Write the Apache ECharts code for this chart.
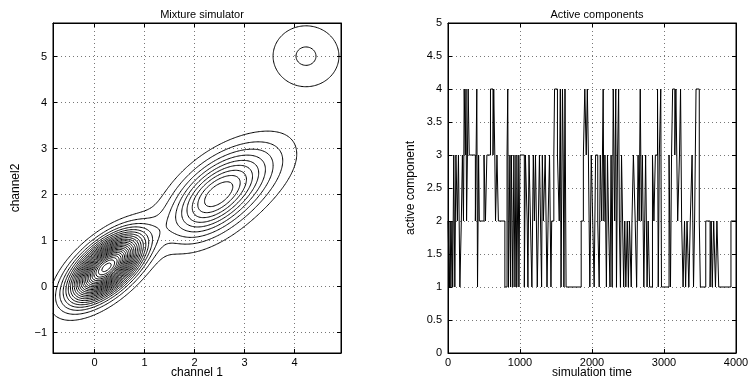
<!DOCTYPE html>
<html><head><meta charset="utf-8">
<script src="https://cdn.jsdelivr.net/npm/echarts@6/dist/echarts.min.js"></script>
<style>html,body{margin:0;padding:0;background:#fff}#c{width:751px;height:381px}</style>
</head><body><div id="c"></div>
<script>
// ---- Mixture model (left panel) ----
const mixWeights = [0.5064, 0.3115, 0.0778, 0.1043];
const mixMeansX  = [0.24, 2.38, 4.23, 3.10];
const mixMeansY  = [0.42, 1.93, 5.01, 2.45];
const mixCovXX   = [0.2074, 0.3392, 0.285, 0.4031];
const mixCovXY   = [0.1290, 0.1792, 0.000, 0.1901];
const mixCovYY   = [0.2074, 0.3392, 0.285, 0.3358];
const contourLevels = [0.0203,0.0405,0.0608,0.0810,0.1013,0.1215,0.1418,0.1620,0.1823,0.2026,0.2228,0.2431,0.2633,0.2836,0.3038,0.3241,0.3443,0.3646,0.3848,0.4051,0.4254,0.4456,0.4659,0.4861];
const ch1Range = [-0.83, 4.93];
const ch2Range = [-1.44, 5.73];
const ch1Ticks = [0, 1, 2, 3, 4];
const ch2Ticks = [-1, 0, 1, 2, 3, 4, 5];

// ---- Active component trace (right panel) ----
const switchTimes = [0,20,30,40,55,65,80,95,110,130,145,165,185,200,215,225,240,250,258,270,280,295,380,400,410,425,435,500,520,540,590,625,635,650,660,680,700,790,820,830,840,860,870,880,900,915,930,945,955,975,985,1000,1060,1075,1100,1110,1125,1145,1165,1185,1200,1215,1240,1255,1270,1285,1300,1310,1325,1350,1375,1390,1410,1430,1440,1470,1480,1520,1545,1560,1570,1590,1600,1610,1625,1640,1850,1880,1900,1920,1935,1950,1970,1990,2010,2030,2050,2080,2100,2115,2135,2155,2165,2180,2200,2215,2230,2250,2265,2280,2295,2315,2330,2340,2355,2370,2380,2395,2410,2425,2440,2455,2470,2490,2505,2520,2545,2555,2575,2600,2620,2640,2655,2670,2685,2700,2720,2745,2765,2780,2800,2840,2860,2880,2910,2920,2935,2955,2965,3070,3090,3105,3120,3150,3165,3190,3215,3230,3245,3265,3285,3300,3320,3345,3365,3390,3410,3425,3445,3490,3505,3580,3640,3655,3670,3690,3715,3735,3760,3930];
const activeComp  = [2,1,2,1,2,1,3,1,3,2,3,1,2,3,2,4,3,4,2,3,4,3,2,4,1,3,2,3,2,3,4,3,4,3,2,3,2,1,3,4,1,3,1,3,1,3,1,3,1,3,1,3,1,3,2,1,3,2,1,3,2,3,1,2,3,2,1,3,2,3,1,2,3,1,2,3,4,3,2,4,1,4,3,1,4,1,2,3,4,3,4,3,1,3,2,1,3,2,1,3,2,4,2,3,1,3,2,1,3,1,4,2,4,1,3,4,2,1,3,2,1,2,1,2,1,2,1,2,3,2,1,3,2,4,2,3,1,3,1,2,1,3,2,3,4,1,3,4,1,3,1,3,4,3,4,2,3,4,2,1,2,1,2,1,2,3,1,2,4,2,1,2,1,2,1,2,1,2,1,2];
const simEnd = 4000;

// ---- density grid + marching squares ----
function density(x, y) {
  let s = 0;
  for (let k = 0; k < mixWeights.length; k++) {
    const dx = x - mixMeansX[k], dy = y - mixMeansY[k];
    const det = mixCovXX[k] * mixCovYY[k] - mixCovXY[k] * mixCovXY[k];
    const q = (mixCovYY[k] * dx * dx - 2 * mixCovXY[k] * dx * dy + mixCovXX[k] * dy * dy) / det;
    s += mixWeights[k] * Math.exp(-0.5 * q) / (2 * Math.PI * Math.sqrt(det));
  }
  return s;
}
const NX = 230, NY = 280;
const gx = [], gy = [];
for (let i = 0; i < NX; i++) gx.push(ch1Range[0] + (ch1Range[1] - ch1Range[0]) * i / (NX - 1));
for (let j = 0; j < NY; j++) gy.push(ch2Range[0] + (ch2Range[1] - ch2Range[0]) * j / (NY - 1));
const Z = [];
for (let j = 0; j < NY; j++) { const row = []; for (let i = 0; i < NX; i++) row.push(density(gx[i], gy[j])); Z.push(row); }

function contour(level) {
  const pts = {}, adj = {};
  function ep(type, i, j) {
    const key = type + i + '_' + j;
    if (!pts[key]) {
      let xa, ya, xb, yb, za, zb;
      if (type === 'h') { xa = gx[i]; xb = gx[i + 1]; ya = yb = gy[j]; za = Z[j][i]; zb = Z[j][i + 1]; }
      else { xa = xb = gx[i]; ya = gy[j]; yb = gy[j + 1]; za = Z[j][i]; zb = Z[j + 1][i]; }
      const t = (level - za) / (zb - za);
      pts[key] = [xa + (xb - xa) * t, ya + (yb - ya) * t];
    }
    return key;
  }
  function link(a, b) { (adj[a] = adj[a] || []).push(b); (adj[b] = adj[b] || []).push(a); }
  for (let j = 0; j < NY - 1; j++) for (let i = 0; i < NX - 1; i++) {
    const z0 = Z[j][i], z1 = Z[j][i + 1], z2 = Z[j + 1][i + 1], z3 = Z[j + 1][i];
    const c = (z0 > level ? 1 : 0) | (z1 > level ? 2 : 0) | (z2 > level ? 4 : 0) | (z3 > level ? 8 : 0);
    if (c === 0 || c === 15) continue;
    const B = () => ep('h', i, j), T = () => ep('h', i, j + 1), L = () => ep('v', i, j), R = () => ep('v', i + 1, j);
    switch (c) {
      case 1: case 14: link(L(), B()); break;
      case 2: case 13: link(B(), R()); break;
      case 3: case 12: link(L(), R()); break;
      case 4: case 11: link(R(), T()); break;
      case 6: case 9: link(B(), T()); break;
      case 7: case 8: link(L(), T()); break;
      case 5: case 10: {
        const hi = (z0 + z1 + z2 + z3) / 4 > level;
        if (c === 5) { if (hi) { link(L(), T()); link(B(), R()); } else { link(L(), B()); link(R(), T()); } }
        else { if (hi) { link(L(), B()); link(R(), T()); } else { link(L(), T()); link(B(), R()); } }
      } break;
    }
  }
  const used = new Set(), lines = [];
  const walk = (start) => {
    const path = [pts[start]]; used.add(start); let cur = start;
    while (true) {
      const nb = adj[cur].find(k => !used.has(k));
      if (nb === undefined) { if (path.length > 2 && adj[cur].includes(start)) path.push(pts[start]); break; }
      used.add(nb); path.push(pts[nb]); cur = nb;
    }
    return path;
  };
  const keys = Object.keys(adj);
  keys.forEach(k => { if (adj[k].length === 1 && !used.has(k)) lines.push(walk(k)); });
  keys.forEach(k => { if (!used.has(k)) lines.push(walk(k)); });
  return lines;
}
const contourData = [];
contourLevels.forEach(l => contour(l).forEach(p => contourData.push({ coords: p })));

const stepData = switchTimes.map((t, i) => [t, activeComp[i]]);
stepData.push([simEnd, activeComp[activeComp.length - 1]]);

// ---- chart ----
const FONT = 'Liberation Sans';
const fmt = v => (v < 0 ? '\u2212' + (-v) : String(v));
const lineAx = { show: true, onZero: false, lineStyle: { color: '#000', width: 1 } };
const gridLine = { show: true, lineStyle: { color: '#777', type: [1, 3], width: 1 } };
function ax(extra) {
  return Object.assign({
    type: 'value', axisLine: lineAx,
    axisTick: { show: true, inside: true, length: 4, lineStyle: { color: '#000' } },
    splitLine: gridLine, nameMoveOverlap: false,
    nameTextStyle: { color: '#000', fontSize: 12, fontFamily: FONT }
  }, extra);
}
const lab = (margin, vals) => Object.assign({ color: '#000', fontSize: 11, fontFamily: FONT, formatter: fmt, margin: margin }, vals ? { customValues: vals } : {});
const tickC = vals => ({ show: true, inside: true, length: 4, customValues: vals, lineStyle: { color: '#000' } });
const gridBox = { show: true, borderColor: '#000', borderWidth: 1, backgroundColor: 'transparent', outerBoundsMode: 'none', containLabel: false, top: 23, width: 288, height: 330 };
const chart = echarts.init(document.getElementById('c'), null, { renderer: 'canvas' });
chart.setOption({
  animation: false,
  backgroundColor: '#fff',
  title: [
    { text: 'Mixture simulator', left: 197, top: 4, textAlign: 'center', textStyle: { fontSize: 11, fontWeight: 'normal', fontFamily: FONT, color: '#000' } },
    { text: 'Active components', left: 592, top: 4, textAlign: 'center', textStyle: { fontSize: 11, fontWeight: 'normal', fontFamily: FONT, color: '#000' } }
  ],
  grid: [
    Object.assign({ left: 53 }, gridBox),
    Object.assign({ left: 448 }, gridBox)
  ],
  xAxis: [
    ax({ gridIndex: 0, position: 'bottom', min: ch1Range[0], max: ch1Range[1], axisTick: tickC(ch1Ticks),
      axisLabel: lab(4, ch1Ticks), name: 'channel 1', nameLocation: 'middle', nameGap: 14 }),
    ax({ gridIndex: 0, position: 'top', min: ch1Range[0], max: ch1Range[1], axisTick: tickC(ch1Ticks),
      axisLabel: { show: false, customValues: ch1Ticks }, splitLine: { show: false } }),
    ax({ gridIndex: 1, position: 'bottom', min: 0, max: simEnd, interval: 1000,
      axisLabel: lab(4), name: 'simulation time', nameLocation: 'middle', nameGap: 14 }),
    ax({ gridIndex: 1, position: 'top', min: 0, max: simEnd, interval: 1000,
      axisLabel: { show: false }, splitLine: { show: false } })
  ],
  yAxis: [
    ax({ gridIndex: 0, position: 'left', min: ch2Range[0], max: ch2Range[1], axisTick: tickC(ch2Ticks),
      axisLabel: lab(6, ch2Ticks), name: 'channel2', nameLocation: 'middle', nameGap: 31 }),
    ax({ gridIndex: 0, position: 'right', min: ch2Range[0], max: ch2Range[1], axisTick: tickC(ch2Ticks),
      axisLabel: { show: false, customValues: ch2Ticks }, splitLine: { show: false } }),
    ax({ gridIndex: 1, position: 'left', min: 0, max: 5, interval: 0.5,
      axisLabel: lab(6), name: 'active component', nameLocation: 'middle', nameGap: 31 }),
    ax({ gridIndex: 1, position: 'right', min: 0, max: 5, interval: 0.5,
      axisLabel: { show: false }, splitLine: { show: false } })
  ],
  series: [
    { type: 'lines', coordinateSystem: 'cartesian2d', xAxisIndex: 0, yAxisIndex: 0, polyline: true, silent: true,
      lineStyle: { color: '#000', width: 1, opacity: 1 }, data: contourData },
    { type: 'line', xAxisIndex: 2, yAxisIndex: 2, step: 'end', showSymbol: false, silent: true,
      lineStyle: { color: '#000', width: 1 }, data: stepData }
  ]
});
</script></body></html>
